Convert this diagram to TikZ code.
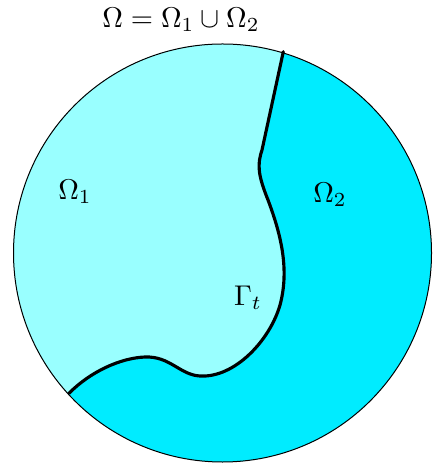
\documentclass[tikz,border=0pt]{standalone}
\usepackage{tikz}
\definecolor{omOne}{RGB}{153,255,255}
\definecolor{omTwo}{RGB}{0,236,255}
\usetikzlibrary{calc}

\begin{document}
\begin{tikzpicture}[x=0.35pt,y=-0.35pt,
  rim/.style={draw=black,line width=0.35pt},
  iface/.style={draw=black,line width=1.1pt,line cap=round,line join=round},
  lab/.style={inner sep=0pt,font=\normalsize}]
\useasboundingbox (0,0) rectangle (432,465);
\coordinate (c) at (222.5,253);
\coordinate (gtop) at (283.3,51.7);
\coordinate (gbot) at (69,393.3);
\def\rad{209}
\def\gammapath{(gtop) -- (262,150) .. controls (257,165) and (258,175) .. (268,200)
  .. controls (280,232) and (290,268) .. (280,305)
  .. controls (270,340) and (235,378) .. (200,376)
  .. controls (180,375) and (170,356) .. (145,357)
  .. controls (120,358) and (90,372) .. (gbot)}
% domain, second phase below
\fill[omTwo] (c) circle[radius=\rad];
% first phase, left of the interface
\begin{scope}
  \clip (c) circle[radius=\rad];
  \fill[omOne] \gammapath -- (-31,484) -- (-31,-30) -- (313,-48) -- cycle;
\end{scope}
\draw[rim] (c) circle[radius=\rad];
% interface
\draw[iface] \gammapath;
% labels
\node[lab] (omega) at (181,20) {$\Omega=\Omega_1\cup\Omega_2$};
\node[lab] (om1) at (75,192) {$\Omega_1$};
\node[lab] (om2) at (330,195) {$\Omega_2$};
\node[lab] (gam) at (248,298) {$\Gamma_t$};
\end{tikzpicture}
\end{document}
